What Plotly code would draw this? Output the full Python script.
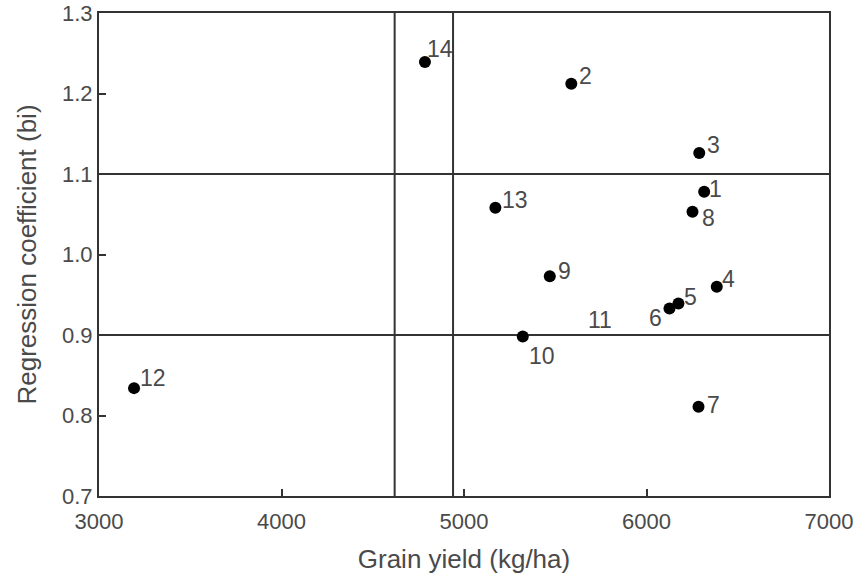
import plotly.graph_objects as go

# Genotype data
genotypes = ["1", "2", "3", "4", "5", "6", "7", "8", "9", "10", "12", "13", "14"]
grain_yield = [6316, 5588, 6289, 6385, 6175, 6126, 6285, 6252, 5470, 5322, 3192, 5172, 4786]
reg_coef = [1.078, 1.212, 1.126, 0.960, 0.939, 0.933, 0.811, 1.053, 0.973, 0.898, 0.834, 1.058, 1.239]

# genotype 11 shown as label only (no marker in the original)
g11_label = ["11"]
g11_yield = [5745]
g11_coef = [0.919]

# reference lines (means / limits)
mean_lines_x = [4620, 4940]
mean_lines_y = [0.9, 1.1]

x_ticks = [3000, 4000, 5000, 6000, 7000]
y_ticks = [0.7, 0.8, 0.9, 1.0, 1.1, 1.2, 1.3]

# label placement style (pixel offsets of label centre from marker centre)
label_offsets = {
    "1": (11, 3), "2": (14, 8), "3": (14, 8), "4": (12, 8), "5": (12, 7),
    "6": (-14, -10), "7": (15, 2), "8": (16, -6), "9": (15, 5), "10": (19, -19),
    "12": (19, 10), "13": (20, 8), "14": (15, 13),
}

font_family = "Liberation Sans, Arial, sans-serif"
text_color = "#4a4a4a"
line_color = "#333333"

fig = go.Figure()
fig.add_trace(go.Scatter(
    x=grain_yield, y=reg_coef, mode="markers",
    marker=dict(color="black", size=12),
    showlegend=False, cliponaxis=False, hoverinfo="skip",
))

for g, xv, yv in zip(genotypes, grain_yield, reg_coef):
    dx, dy = label_offsets[g]
    fig.add_annotation(x=xv, y=yv, text=g, showarrow=False, xanchor="center", yanchor="middle",
                       xshift=dx, yshift=dy,
                       font=dict(family=font_family, size=23, color=text_color))
for g, xv, yv in zip(g11_label, g11_yield, g11_coef):
    fig.add_annotation(x=xv, y=yv, text=g, showarrow=False, xanchor="center", yanchor="middle",
                       font=dict(family=font_family, size=23, color=text_color))

for xv in mean_lines_x:
    fig.add_vline(x=xv, line=dict(color=line_color, width=2), layer="below")
for yv in mean_lines_y:
    fig.add_hline(y=yv, line=dict(color=line_color, width=2), layer="below")

axis_common = dict(
    showgrid=False, zeroline=False, showline=True, linecolor=line_color, linewidth=2,
    mirror=True, ticks="inside", ticklen=7, tickwidth=1.6, tickcolor=line_color,
    tickfont=dict(family=font_family, size=22, color=text_color), automargin=False,
    ticklabeloverflow="allow",
)
fig.update_xaxes(range=[3000, 7000], tickvals=x_ticks, ticktext=[str(v) for v in x_ticks],
                 ticklabelstandoff=5,
                 title=dict(text="Grain yield (kg/ha)", standoff=16,
                            font=dict(family=font_family, size=26, color=text_color)),
                 **axis_common)
fig.update_yaxes(range=[0.7, 1.3], tickvals=y_ticks, ticktext=[f"{v:.1f}" for v in y_ticks],
                 title=dict(text="Regression coefficient (bi)", standoff=18,
                            font=dict(family=font_family, size=26, color=text_color)),
                 **axis_common)

fig.update_layout(
    width=856, height=576,
    margin=dict(l=99, r=27, t=13, b=80),
    plot_bgcolor="white", paper_bgcolor="white",
)

fig.write_html("out.html", config={"displayModeBar": False},
               post_script="document.body.style.margin='0';")
